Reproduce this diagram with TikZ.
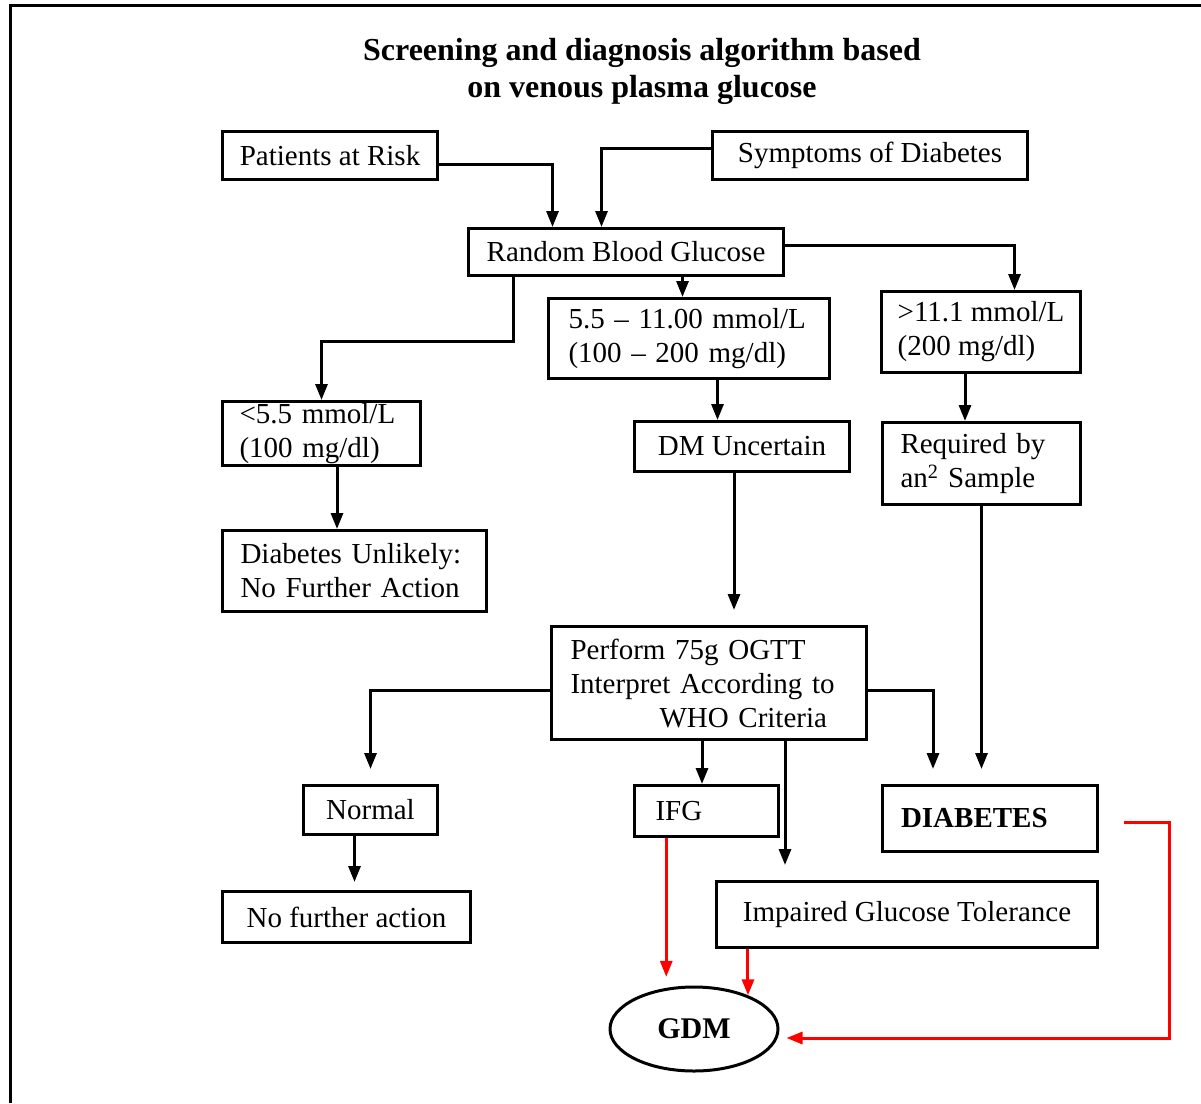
\documentclass[tikz,border=0pt]{standalone}
\usepackage{fontspec}
\setmainfont{Liberation Serif}
\usepackage{tikz}
\usepackage{xcolor}
\usetikzlibrary{arrows.meta,shapes.geometric}
\definecolor{GdmRed}{HTML}{FF0000}
\tikzstyle{StepBox} =[draw,line width=3pt,rectangle,anchor=north west,inner xsep=8pt,inner ysep=0pt,align=left,font=\fontsize{29}{34}\selectfont]
\tikzstyle{GdmNode} =[draw,ellipse,line width=3pt,minimum width=168pt,minimum height=84pt,inner sep=0pt,font=\fontsize{30}{34}\selectfont\bfseries]
\tikzstyle{Flow} =[line width=3pt,-{Triangle[length=16pt,width=12pt]}]
\tikzstyle{GdmFlow} =[Flow,color=GdmRed]

\begin{document}
\begin{tikzpicture}[x=1pt,y=-1pt]
\useasboundingbox (0,0) rectangle (1201,1103);
\draw[line width=3pt] (10,1103) -- (10,5) -- (1201,5);
\node[font=\fontsize{32}{37}\selectfont\bfseries,align=center](TitleNode) at (642,71){Screening and diagnosis algorithm based\\on venous plasma glucose};
\node[StepBox,minimum width=215pt,minimum height=48pt](Patients-at-Risk) at (221,130){Patients at Risk};
\node[StepBox,minimum width=315pt,minimum height=48pt](Symptoms-of-Diabetes) at (711,130){Symptoms of Diabetes};
\node[StepBox,minimum width=315pt,minimum height=47pt](Random-Blood-Glucose) at (467,227){Random Blood Glucose};
\node[StepBox,minimum width=281pt,minimum height=80pt,text width=241pt](Glucose-Middle) at (547,297){5.5 – 11.00 mmol/L\\(100 – 200 mg/dl)};
\node[StepBox,minimum width=199pt,minimum height=81pt](Glucose-High) at (880,290){>11.1 mmol/L\\(200 mg/dl)};
\node[StepBox,minimum width=198pt,minimum height=64pt,text width=164pt](Glucose-Low) at (221,400){<5.5 mmol/L\\(100 mg/dl)};
\node[StepBox,minimum width=215pt,minimum height=50pt](DM-Uncertain) at (633,420){DM Uncertain};
\node[StepBox,minimum width=198pt,minimum height=82pt,text width=162pt](Repeat-Sample) at (881,421){Required by\\an\textsuperscript{2} Sample};
\node[StepBox,minimum width=264pt,minimum height=81pt,text width=228pt](Diabetes-Unlikely) at (221,529){Diabetes Unlikely:\\No Further Action};
\node[StepBox,minimum width=315pt,minimum height=113pt,text width=277pt](Perform-OGTT) at (550,625){Perform 75g OGTT\\Interpret According to\\\hspace*{89pt}WHO Criteria};
\node[StepBox,minimum width=134pt,minimum height=49pt](Normal) at (302,784){Normal};
\node[StepBox,minimum width=144pt,minimum height=51pt,text width=102pt](IFG) at (633,784){IFG};
\node[StepBox,minimum width=215pt,minimum height=66pt,text width=178pt,font=\fontsize{29}{34}\selectfont\bfseries](Diabetes) at (881,784){DIABETES};
\node[StepBox,minimum width=248pt,minimum height=51pt](No-Further-Action) at (221,890){No further action};
\node[StepBox,minimum width=381pt,minimum height=66pt](Impaired-Glucose-Tolerance) at (715,880){Impaired Glucose Tolerance};
\node[GdmNode](GDM) at (694,1029){GDM};
\draw[Flow] ([yshift=-9pt]Patients-at-Risk.east) -| ([xshift=-73.5pt]Random-Blood-Glucose.north);
\draw[Flow] ([yshift=7pt]Symptoms-of-Diabetes.west) -| ([xshift=-24.5pt]Random-Blood-Glucose.north);
\draw[Flow] ([yshift=7pt]Random-Blood-Glucose.east) -| ([xshift=33.5pt]Glucose-High.north);
\draw[Flow] ([xshift=56.5pt]Random-Blood-Glucose.south) -- ([xshift=56.5pt]Random-Blood-Glucose.south |- Glucose-Middle.north);
\draw[Flow] ([xshift=-112.5pt]Random-Blood-Glucose.south) -- ++(0,64) -| (Glucose-Low.north);
\draw[Flow] ([xshift=28.5pt]Glucose-Middle.south) -- ([xshift=28.5pt]Glucose-Middle.south |- DM-Uncertain.north);
\draw[Flow] ([xshift=-16pt]Glucose-High.south) -- ([xshift=-16pt]Glucose-High.south |- Repeat-Sample.north);
\draw[Flow] ([xshift=15.5pt]Glucose-Low.south) -- ([xshift=15.5pt]Glucose-Low.south |- Diabetes-Unlikely.north);
\draw[Flow,shorten >=15pt] ([xshift=-8pt]DM-Uncertain.south) -- ([xshift=-8pt]DM-Uncertain.south |- Perform-OGTT.north);
\draw[Flow,shorten >=15pt] (Repeat-Sample.south) -- (Repeat-Sample.south |- Diabetes.north);
\draw[Flow,shorten >=15pt] ([yshift=-7.5pt]Perform-OGTT.west) -| (Normal.north);
\draw[Flow,shorten >=15pt] ([yshift=-7.5pt]Perform-OGTT.east) -| ([xshift=-57pt]Diabetes.north);
\draw[Flow] ([xshift=-7pt]Perform-OGTT.south) -- ([xshift=-7pt]Perform-OGTT.south |- IFG.north);
\draw[Flow,shorten >=15pt] ([xshift=76pt]Perform-OGTT.south) -- ([xshift=76pt]Perform-OGTT.south |- Impaired-Glucose-Tolerance.north);
\draw[Flow,shorten >=8pt] ([xshift=-16pt]Normal.south) -- ([xshift=-16pt]Normal.south |- No-Further-Action.north);
\draw[GdmFlow,shorten >=11pt] (IFG.south -| GDM.124) -- (GDM.124);
\draw[GdmFlow] (Impaired-Glucose-Tolerance.south -| GDM.32) -- (GDM.32);
\draw[GdmFlow,shorten >=7pt] ([xshift=25pt,yshift=-4pt]Diabetes.east) -- ++(45,0) |- ([yshift=-9pt]GDM.east);
\end{tikzpicture}
\end{document}
